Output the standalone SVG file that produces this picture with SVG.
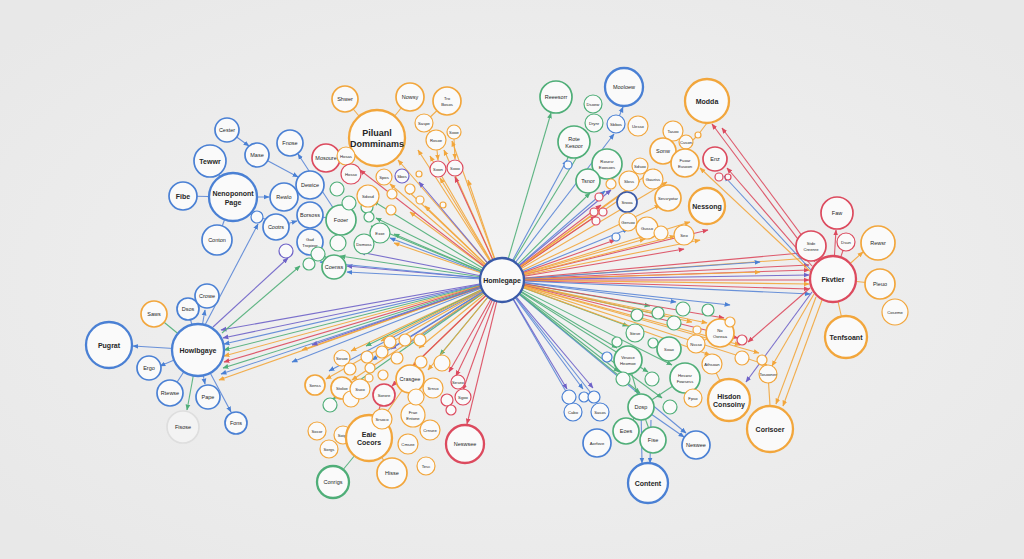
<svg xmlns="http://www.w3.org/2000/svg" width="1024" height="559" viewBox="0 0 1024 559">
<defs>
<radialGradient id="bg" cx="50%" cy="50%" r="65%"><stop offset="0" stop-color="#f3f3f3"/><stop offset="1" stop-color="#e8e8e8"/></radialGradient>
<marker id="mb" viewBox="0 0 10 10" refX="9" refY="5" markerWidth="6" markerHeight="6" markerUnits="userSpaceOnUse" orient="auto"><path d="M0,1L10,5L0,9z" fill="#4a80d4"/></marker>
<marker id="mo" viewBox="0 0 10 10" refX="9" refY="5" markerWidth="6" markerHeight="6" markerUnits="userSpaceOnUse" orient="auto"><path d="M0,1L10,5L0,9z" fill="#f2a63c"/></marker>
<marker id="mr" viewBox="0 0 10 10" refX="9" refY="5" markerWidth="6" markerHeight="6" markerUnits="userSpaceOnUse" orient="auto"><path d="M0,1L10,5L0,9z" fill="#dc4a5e"/></marker>
<marker id="mg" viewBox="0 0 10 10" refX="9" refY="5" markerWidth="6" markerHeight="6" markerUnits="userSpaceOnUse" orient="auto"><path d="M0,1L10,5L0,9z" fill="#4fae78"/></marker>
<marker id="mp" viewBox="0 0 10 10" refX="9" refY="5" markerWidth="6" markerHeight="6" markerUnits="userSpaceOnUse" orient="auto"><path d="M0,1L10,5L0,9z" fill="#6e62c8"/></marker>
</defs>
<style>
circle{fill:#fafafa;stroke-width:1.7}
.cb{stroke:#4a80d4}.co{stroke:#f2a63c}.cr{stroke:#dc4a5e}.cg{stroke:#4fae78}.cp{stroke:#6e62c8}.cd{stroke:#3a5aa8}.cy{stroke:#dedede;fill:#f3f3f3}
.k{stroke-width:2.3}.f{stroke-width:1.2}
line{stroke-width:1.1;fill:none;stroke-opacity:.9}
.lb{stroke:#5a86d6;marker-end:url(#mb)}.lo{stroke:#f2a63c;marker-end:url(#mo)}.lr{stroke:#dc4a5e;marker-end:url(#mr)}.lg{stroke:#4fae78;marker-end:url(#mg)}.lp{stroke:#6e62c8;marker-end:url(#mp)}
.x{marker-end:none}
text{font-family:"Liberation Sans",Arial,sans-serif;fill:#262626;text-anchor:middle;dominant-baseline:central}
.xl{font-size:9px;font-weight:bold}.l{font-size:7px;font-weight:bold}.m{font-size:5.5px}.s{font-size:4.2px}
</style>
<rect width="1024" height="559" fill="url(#bg)"/>
<g id="connectors">
<g id="fan">
<line class="lo" x1="502" y1="280" x2="398" y2="160"/>
<line class="lo" x1="502" y1="280" x2="418" y2="150"/>
<line class="lo" x1="502" y1="280" x2="430" y2="156"/>
<line class="lo" x1="502" y1="280" x2="444" y2="150"/>
<line class="lo" x1="502" y1="280" x2="452" y2="141"/>
<line class="lo" x1="502" y1="280" x2="440" y2="178"/>
<line class="lr" x1="502" y1="280" x2="455" y2="177"/>
<line class="lo" x1="502" y1="280" x2="390" y2="184"/>
<line class="lo" x1="502" y1="280" x2="407" y2="190"/>
<line class="lp" x1="502" y1="280" x2="419" y2="182"/>
<line class="lg" x1="502" y1="280" x2="373" y2="201"/>
<line class="lg" x1="502" y1="280" x2="371" y2="226"/>
<line class="lg" x1="502" y1="280" x2="376" y2="218"/>
<line class="lb" x1="502" y1="280" x2="390" y2="238"/>
<line class="lg" x1="502" y1="280" x2="394" y2="234"/>
<line class="lp" x1="502" y1="280" x2="347" y2="266"/>
<line class="lb" x1="502" y1="280" x2="347" y2="272"/>
<line class="lg" x1="502" y1="280" x2="340" y2="256"/>
<line class="lo" x1="502" y1="280" x2="394" y2="243"/>
<line class="lb" x1="502" y1="280" x2="320" y2="262"/>
<line class="lp" x1="502" y1="280" x2="360" y2="252"/>
<line class="lo" x1="502" y1="280" x2="410" y2="212"/>
<line class="lo" x1="502" y1="280" x2="425" y2="206"/>
<line class="lr" x1="502" y1="280" x2="360" y2="170"/>
<line class="lo" x1="502" y1="280" x2="468" y2="180"/>
<line class="lp" x1="502" y1="280" x2="223" y2="338"/>
<line class="lb" x1="502" y1="280" x2="224" y2="344"/>
<line class="lg" x1="502" y1="280" x2="224" y2="350"/>
<line class="lo" x1="502" y1="280" x2="224" y2="356"/>
<line class="lr" x1="502" y1="280" x2="224" y2="362"/>
<line class="lg" x1="502" y1="280" x2="223" y2="368"/>
<line class="lb" x1="502" y1="280" x2="221" y2="374"/>
<line class="lo" x1="502" y1="280" x2="219" y2="380"/>
<line class="lp" x1="502" y1="280" x2="221" y2="330"/>
<line class="lo" x1="502" y1="280" x2="326" y2="379"/>
<line class="lb" x1="502" y1="280" x2="329" y2="371"/>
<line class="lo" x1="502" y1="280" x2="351" y2="351"/>
<line class="lg" x1="502" y1="280" x2="366" y2="346"/>
<line class="lo" x1="502" y1="280" x2="381" y2="341"/>
<line class="lp" x1="502" y1="280" x2="391" y2="349"/>
<line class="lb" x1="502" y1="280" x2="405" y2="346"/>
<line class="lo" x1="502" y1="280" x2="419" y2="348"/>
<line class="lg" x1="502" y1="280" x2="440" y2="355"/>
<line class="lr" x1="502" y1="280" x2="449" y2="372"/>
<line class="lr" x1="502" y1="280" x2="456" y2="376"/>
<line class="lr" x1="502" y1="280" x2="463" y2="390"/>
<line class="lr" x1="502" y1="280" x2="467" y2="424"/>
<line class="lo" x1="502" y1="280" x2="428" y2="370"/>
<line class="lo" x1="502" y1="280" x2="412" y2="367"/>
<line class="lr" x1="502" y1="280" x2="392" y2="386"/>
<line class="lg" x1="502" y1="280" x2="333" y2="399"/>
<line class="lo" x1="502" y1="280" x2="302" y2="350"/>
<line class="lp" x1="502" y1="280" x2="312" y2="345"/>
<line class="lb" x1="502" y1="280" x2="292" y2="362"/>
<line class="lo" x1="502" y1="280" x2="352" y2="380"/>
<line class="lb" x1="502" y1="280" x2="372" y2="360"/>
<line class="lg" x1="502" y1="280" x2="551" y2="113"/>
<line class="lb" x1="502" y1="280" x2="567" y2="160"/>
<line class="lg" x1="502" y1="280" x2="580" y2="152"/>
<line class="lb" x1="502" y1="280" x2="614" y2="134"/>
<line class="lg" x1="502" y1="280" x2="590" y2="193"/>
<line class="lb" x1="502" y1="280" x2="605" y2="191"/>
<line class="lp" x1="502" y1="280" x2="611" y2="190"/>
<line class="lr" x1="502" y1="280" x2="601" y2="205"/>
<line class="lo" x1="502" y1="280" x2="622" y2="198"/>
<line class="lr" x1="502" y1="280" x2="596" y2="216"/>
<line class="lo" x1="502" y1="280" x2="640" y2="181"/>
<line class="lo" x1="502" y1="280" x2="655" y2="169"/>
<line class="lo" x1="502" y1="280" x2="667" y2="182"/>
<line class="lo" x1="502" y1="280" x2="660" y2="205"/>
<line class="lo" x1="502" y1="280" x2="690" y2="222"/>
<line class="lr" x1="502" y1="280" x2="708" y2="230"/>
<line class="lo" x1="502" y1="280" x2="700" y2="240"/>
<line class="lo" x1="502" y1="280" x2="675" y2="236"/>
<line class="lb" x1="502" y1="280" x2="628" y2="229"/>
<line class="lo" x1="502" y1="280" x2="645" y2="239"/>
<line class="lr" x1="502" y1="280" x2="615" y2="240"/>
<line class="lr" x1="502" y1="280" x2="684" y2="249"/>
<line class="lr" x1="502" y1="280" x2="809" y2="265"/>
<line class="lr" x1="502" y1="280" x2="809" y2="270"/>
<line class="lp" x1="502" y1="280" x2="809" y2="275"/>
<line class="lr" x1="502" y1="280" x2="809" y2="280"/>
<line class="lo" x1="502" y1="280" x2="809" y2="284"/>
<line class="lr" x1="502" y1="280" x2="809" y2="289"/>
<line class="lb" x1="502" y1="280" x2="810" y2="294"/>
<line class="lo" x1="502" y1="280" x2="810" y2="258"/>
<line class="lr" x1="502" y1="280" x2="812" y2="252"/>
<line class="lb" x1="502" y1="280" x2="760" y2="262"/>
<line class="lo" x1="502" y1="280" x2="760" y2="272"/>
<line class="lb" x1="502" y1="280" x2="572" y2="402"/>
<line class="lb" x1="502" y1="280" x2="598" y2="402"/>
<line class="lp" x1="502" y1="280" x2="567" y2="389"/>
<line class="lb" x1="502" y1="280" x2="583" y2="389"/>
<line class="lp" x1="502" y1="280" x2="593" y2="388"/>
<line class="lg" x1="502" y1="280" x2="619" y2="372"/>
<line class="lg" x1="502" y1="280" x2="617" y2="348"/>
<line class="lg" x1="502" y1="280" x2="628" y2="326"/>
<line class="lg" x1="502" y1="280" x2="650" y2="306"/>
<line class="lg" x1="502" y1="280" x2="665" y2="316"/>
<line class="lb" x1="502" y1="280" x2="676" y2="302"/>
<line class="lg" x1="502" y1="280" x2="648" y2="372"/>
<line class="lg" x1="502" y1="280" x2="672" y2="365"/>
<line class="lb" x1="502" y1="280" x2="686" y2="433"/>
<line class="lg" x1="502" y1="280" x2="640" y2="393"/>
<line class="lo" x1="502" y1="280" x2="692" y2="322"/>
<line class="lo" x1="502" y1="280" x2="707" y2="323"/>
<line class="lr" x1="502" y1="280" x2="724" y2="318"/>
<line class="lr" x1="502" y1="280" x2="738" y2="338"/>
<line class="lo" x1="502" y1="280" x2="710" y2="355"/>
<line class="lo" x1="502" y1="280" x2="759" y2="353"/>
<line class="lo" x1="502" y1="280" x2="767" y2="365"/>
<line class="lg" x1="502" y1="280" x2="662" y2="398"/>
<line class="lb" x1="502" y1="280" x2="730" y2="305"/>
<line class="lo" x1="502" y1="280" x2="740" y2="345"/>
</g>
<g id="hub-links">
<line class="lr" x1="815" y1="262" x2="712" y2="124"/>
<line class="lr" x1="820" y1="260" x2="722" y2="128"/>
<line class="lr" x1="812" y1="266" x2="727" y2="168"/>
<line class="lb" x1="811" y1="270" x2="724" y2="176"/>
<line class="lo" x1="812" y1="273" x2="700" y2="168"/>
<line class="lo" x1="816" y1="297" x2="776" y2="404"/>
<line class="lo" x1="822" y1="300" x2="783" y2="406"/>
<line class="lp" x1="812" y1="292" x2="746" y2="382"/>
<line class="lr" x1="810" y1="288" x2="748" y2="342"/>
<line class="lo" x1="814" y1="294" x2="772" y2="366"/>
<line class="lb" x1="205" y1="325" x2="258" y2="224"/>
<line class="lp" x1="213" y1="327" x2="288" y2="258"/>
<line class="lg" x1="222" y1="333" x2="300" y2="266"/>
</g>
<g id="local-links">
<line class="lb x" x1="233" y1="197" x2="210" y2="161"/>
<line class="lb x" x1="233" y1="197" x2="183" y2="196"/>
<line class="lb x" x1="233" y1="197" x2="217" y2="240"/>
<line class="lb" x1="227" y1="130" x2="249" y2="146"/>
<line class="lb" x1="233" y1="197" x2="269" y2="197"/>
<line class="lb x" x1="284" y1="197" x2="310" y2="185"/>
<line class="lb" x1="257" y1="155" x2="298" y2="177"/>
<line class="lb" x1="276" y1="227" x2="297" y2="221"/>
<line class="lb" x1="341" y1="220" x2="298" y2="154"/>
<line class="lb x" x1="310" y1="215" x2="328" y2="218"/>
<line class="lg x" x1="310" y1="242" x2="334" y2="265"/>
<line class="lb x" x1="257" y1="217" x2="290" y2="225"/>
<line class="lo x" x1="377" y1="138" x2="345" y2="99"/>
<line class="lo x" x1="377" y1="138" x2="410" y2="97"/>
<line class="lr x" x1="377" y1="138" x2="326" y2="158"/>
<line class="lo x" x1="447" y1="101" x2="424" y2="123"/>
<line class="lo x" x1="424" y1="123" x2="436" y2="140"/>
<line class="lo" x1="437" y1="150" x2="438" y2="160"/>
<line class="lo" x1="454" y1="139" x2="455" y2="159"/>
<line class="lb" x1="198" y1="350" x2="133" y2="346"/>
<line class="lg x" x1="198" y1="350" x2="154" y2="314"/>
<line class="lb x" x1="198" y1="350" x2="188" y2="309"/>
<line class="lb" x1="198" y1="350" x2="205" y2="310"/>
<line class="lb" x1="198" y1="350" x2="160" y2="366"/>
<line class="lb x" x1="198" y1="350" x2="170" y2="393"/>
<line class="lb" x1="198" y1="350" x2="205" y2="384"/>
<line class="lg" x1="198" y1="350" x2="187" y2="410"/>
<line class="lb" x1="198" y1="350" x2="231" y2="412"/>
<line class="lr" x1="833" y1="279" x2="836" y2="230"/>
<line class="lr x" x1="833" y1="279" x2="811" y2="246"/>
<line class="lr x" x1="833" y1="279" x2="846" y2="242"/>
<line class="lo" x1="833" y1="279" x2="863" y2="252"/>
<line class="lo x" x1="833" y1="279" x2="880" y2="284"/>
<line class="lo x" x1="833" y1="279" x2="846" y2="337"/>
<line class="lb" x1="641" y1="407" x2="642" y2="463"/>
<line class="lb" x1="651" y1="420" x2="650" y2="463"/>
<line class="lb" x1="641" y1="407" x2="684" y2="437"/>
<line class="lg x" x1="628" y1="360" x2="641" y2="407"/>
<line class="lg x" x1="685" y1="378" x2="641" y2="407"/>
<line class="lg x" x1="641" y1="407" x2="626" y2="431"/>
<line class="lg x" x1="641" y1="407" x2="653" y2="440"/>
<line class="lg x" x1="369" y1="438" x2="333" y2="482"/>
<line class="lo x" x1="369" y1="438" x2="392" y2="473"/>
<line class="lo x" x1="369" y1="438" x2="410" y2="379"/>
<line class="lr x" x1="369" y1="438" x2="384" y2="395"/>
<line class="lo x" x1="369" y1="438" x2="343" y2="435"/>
<line class="lo x" x1="698" y1="135" x2="707" y2="123"/>
<line class="lo x" x1="698" y1="135" x2="685" y2="148"/>
<line class="lb" x1="616" y1="124" x2="623" y2="107"/>
<line class="lg x" x1="574" y1="142" x2="567" y2="160"/>
<line class="lo x" x1="720" y1="333" x2="696" y2="344"/>
<line class="lo x" x1="712" y1="364" x2="729" y2="400"/>
<line class="lo x" x1="768" y1="374" x2="770" y2="406"/>
</g>
</g>
<g id="nodes">
<g id="n-home"><circle class="cd k" cx="502" cy="280" r="22"/><text class="l" x="502" y="280">Homlegape</text></g>
<g id="n-cester"><circle class="cb" cx="227" cy="130" r="12"/><text class="m" x="227" y="130">Cester</text></g>
<g id="n-tewwr"><circle class="cb" cx="210" cy="161" r="16"/><text class="l" x="210" y="161">Tewwr</text></g>
<g id="n-fibe"><circle class="cb" cx="183" cy="196" r="14"/><text class="l" x="183" y="196">Fibe</text></g>
<g id="n-page"><circle class="cb k" cx="233" cy="197" r="24"/><text class="l" x="233" y="197"><tspan x="233" dy="-4.5">Nenoponont</tspan><tspan x="233" dy="9">Page</tspan></text></g>
<g id="n-conton"><circle class="cb" cx="217" cy="240" r="15"/><text class="m" x="217" y="240">Conton</text></g>
<g id="n-mase"><circle class="cb" cx="257" cy="155" r="12"/><text class="m" x="257" y="155">Mase</text></g>
<g id="n-fnose"><circle class="cb" cx="290" cy="143" r="13"/><text class="m" x="290" y="143">Fnose</text></g>
<g id="n-rewlo"><circle class="cb" cx="284" cy="197" r="14"/><text class="m" x="284" y="197">Rewlo</text></g>
<g id="n-dewice"><circle class="cb" cx="310" cy="185" r="14"/><text class="m" x="310" y="185">Dewice</text></g>
<g id="n-borsoss"><circle class="cb" cx="310" cy="215" r="13"/><text class="m" x="310" y="215">Borsoss</text></g>
<g id="n-cootrs"><circle class="cb" cx="276" cy="227" r="13"/><text class="m" x="276" y="227">Cootrs</text></g>
<g id="n-gad"><circle class="cb" cx="310" cy="242" r="13"/><text class="s" x="310" y="242"><tspan x="310" dy="-3">Gad</tspan><tspan x="310" dy="6">Tropieor</tspan></text></g>
<g id="n-sb1"><circle class="cb f" cx="257" cy="217" r="6"/></g>
<g id="n-sp1"><circle class="cp f" cx="286" cy="251" r="7"/></g>
<g id="n-fooer"><circle class="cg" cx="341" cy="220" r="15"/><text class="m" x="341" y="220">Fooer</text></g>
<g id="n-coenss"><circle class="cg" cx="334" cy="267" r="12"/><text class="m" x="334" y="267">Coenss</text></g>
<g id="n-g1"><circle class="cg f" cx="337" cy="189" r="7"/></g>
<g id="n-g2"><circle class="cg f" cx="349" cy="203" r="7"/></g>
<g id="n-g3"><circle class="cg f" cx="367" cy="207" r="6"/></g>
<g id="n-g4"><circle class="cg f" cx="380" cy="233" r="10"/><text class="s" x="380" y="233">Exxe</text></g>
<g id="n-g5"><circle class="cg f" cx="364" cy="244" r="10"/><text class="s" x="364" y="244">Domoss</text></g>
<g id="n-g6"><circle class="cg f" cx="338" cy="243" r="8"/></g>
<g id="n-g7"><circle class="cg f" cx="318" cy="254" r="7"/></g>
<g id="n-g8"><circle class="cg f" cx="309" cy="264" r="6"/></g>
<g id="n-g9"><circle class="cg f" cx="369" cy="217" r="5"/></g>
<g id="n-mosoure"><circle class="cr" cx="326" cy="158" r="14"/><text class="m" x="326" y="158">Mosoure</text></g>
<g id="n-poliunl"><circle class="co k" cx="377" cy="138" r="28"/><text class="xl" x="377" y="138" font-weight="normal"><tspan x="377" dy="-5">Piluanl</tspan><tspan x="377" dy="11">Domminams</tspan></text></g>
<g id="n-shwer"><circle class="co" cx="345" cy="99" r="13"/><text class="m" x="345" y="99">Shwer</text></g>
<g id="n-nowsy"><circle class="co" cx="410" cy="97" r="14"/><text class="m" x="410" y="97">Nowsy</text></g>
<g id="n-tro"><circle class="co" cx="447" cy="101" r="14"/><text class="s" x="447" y="101"><tspan x="447" dy="-3">Tro</tspan><tspan x="447" dy="6">Bosos</tspan></text></g>
<g id="n-saspe"><circle class="co f" cx="424" cy="123" r="9"/><text class="s" x="424" y="123">Saspe</text></g>
<g id="n-rosoe"><circle class="co f" cx="436" cy="140" r="10"/><text class="s" x="436" y="140">Rosoe</text></g>
<g id="n-sooe"><circle class="co f" cx="454" cy="132" r="7"/><text class="s" x="454" y="132">Sooe</text></g>
<g id="n-soon"><circle class="cr f" cx="438" cy="169" r="8"/><text class="s" x="438" y="169">Soon</text></g>
<g id="n-sooo"><circle class="cr f" cx="455" cy="168" r="8"/><text class="s" x="455" y="168">Sooo</text></g>
<g id="n-hosas"><circle class="co f" cx="346" cy="156" r="9"/><text class="s" x="346" y="156">Hosas</text></g>
<g id="n-hosso"><circle class="cr f" cx="351" cy="174" r="10"/><text class="s" x="351" y="174">Hosso</text></g>
<g id="n-sdosd"><circle class="co f" cx="368" cy="196" r="11"/><text class="s" x="368" y="196">Sdosd</text></g>
<g id="n-spos"><circle class="co f" cx="384" cy="177" r="8"/><text class="s" x="384" y="177">Spos</text></g>
<g id="n-sbos"><circle class="cp f" cx="402" cy="176" r="7"/><text class="s" x="402" y="176">Sbos</text></g>
<g id="n-o1"><circle class="co f" cx="419" cy="174" r="3"/></g>
<g id="n-o2"><circle class="co f" cx="410" cy="189" r="5"/></g>
<g id="n-o3"><circle class="co f" cx="392" cy="194" r="5"/></g>
<g id="n-o4"><circle class="co f" cx="420" cy="200" r="4"/></g>
<g id="n-o5"><circle class="co f" cx="391" cy="210" r="5"/></g>
<g id="n-o6"><circle class="co f" cx="443" cy="205" r="3"/></g>
<g id="n-reeesorr"><circle class="cg" cx="556" cy="97" r="16"/><text class="m" x="556" y="97">Reeesorr</text></g>
<g id="n-mooloew"><circle class="cb k" cx="624" cy="87" r="19"/><text class="m" x="624" y="87">Mooloew</text></g>
<g id="n-dsoew"><circle class="cg f" cx="593" cy="104" r="9"/><text class="s" x="593" y="104">Dsoew</text></g>
<g id="n-drynr"><circle class="cg f" cx="594" cy="123" r="9"/><text class="s" x="594" y="123">Drynr</text></g>
<g id="n-sbbos"><circle class="cb f" cx="616" cy="124" r="9"/><text class="s" x="616" y="124">Sbbos</text></g>
<g id="n-rote"><circle class="cg" cx="574" cy="142" r="16"/><text class="m" x="574" y="142"><tspan x="574" dy="-3.5">Rote</tspan><tspan x="574" dy="7">Kesoor</tspan></text></g>
<g id="n-sg1"><circle class="cb f" cx="568" cy="165" r="4"/></g>
<g id="n-rosesr"><circle class="cg" cx="607" cy="164" r="15"/><text class="s" x="607" y="164"><tspan x="607" dy="-3">Rosesr</tspan><tspan x="607" dy="6">Eoosoes</tspan></text></g>
<g id="n-tsnor"><circle class="cg" cx="588" cy="181" r="12"/><text class="m" x="588" y="181">Tsnor</text></g>
<g id="n-sg2"><circle class="co f" cx="611" cy="184" r="5"/></g>
<g id="n-uesso"><circle class="co f" cx="638" cy="126" r="10"/><text class="s" x="638" y="126">Uesso</text></g>
<g id="n-tasoo"><circle class="co f" cx="673" cy="131" r="10"/><text class="s" x="673" y="131">Tasoo</text></g>
<g id="n-cuson"><circle class="co f" cx="686" cy="142" r="7"/><text class="s" x="686" y="142">Cuson</text></g>
<g id="n-sonw"><circle class="co" cx="663" cy="151" r="13"/><text class="m" x="663" y="151">Sonw</text></g>
<g id="n-fuoar"><circle class="co" cx="685" cy="163" r="14"/><text class="s" x="685" y="163"><tspan x="685" dy="-3">Fuoar</tspan><tspan x="685" dy="6">Eusoon</tspan></text></g>
<g id="n-sdsoo"><circle class="co f" cx="640" cy="166" r="8"/><text class="s" x="640" y="166">Sdsoo</text></g>
<g id="n-sloss"><circle class="co f" cx="629" cy="181" r="10"/><text class="s" x="629" y="181">Sloss</text></g>
<g id="n-gauriss"><circle class="co f" cx="653" cy="179" r="10"/><text class="s" x="653" y="179">Gauriss</text></g>
<g id="n-modda"><circle class="co k" cx="707" cy="101" r="22"/><text class="l" x="707" y="101">Modda</text></g>
<g id="n-so1"><circle class="co f" cx="698" cy="135" r="3"/></g>
<g id="n-enz"><circle class="cr" cx="715" cy="159" r="12"/><text class="m" x="715" y="159">Enz</text></g>
<g id="n-sr1"><circle class="cr f" cx="719" cy="177" r="4"/></g>
<g id="n-sr2"><circle class="cr f" cx="728" cy="177" r="3"/></g>
<g id="n-srooa"><circle class="cd" cx="627" cy="202" r="10"/><text class="s" x="627" y="202">Srooa</text></g>
<g id="n-sessry"><circle class="co" cx="668" cy="198" r="13"/><text class="s" x="668" y="198">Sessryotar</text></g>
<g id="n-nessong"><circle class="co k" cx="707" cy="206" r="18"/><text class="l" x="707" y="206">Nessong</text></g>
<g id="n-sp2"><circle class="cr f" cx="599" cy="197" r="4"/></g>
<g id="n-sp3"><circle class="cr f" cx="594" cy="212" r="4"/></g>
<g id="n-sp4"><circle class="cr f" cx="603" cy="212" r="4"/></g>
<g id="n-sp5"><circle class="cr f" cx="596" cy="221" r="4"/></g>
<g id="n-gersoo"><circle class="co f" cx="628" cy="222" r="9"/><text class="s" x="628" y="222">Gersoo</text></g>
<g id="n-gusso"><circle class="co f" cx="647" cy="228" r="11"/><text class="s" x="647" y="228">Gusso</text></g>
<g id="n-seo1"><circle class="co f" cx="661" cy="233" r="7"/></g>
<g id="n-seo"><circle class="co f" cx="684" cy="235" r="10"/><text class="s" x="684" y="235">Seo</text></g>
<g id="n-sp6"><circle class="cb f" cx="616" cy="237" r="4"/></g>
<g id="n-fkvtier"><circle class="cr k" cx="833" cy="279" r="23"/><text class="l" x="833" y="279">Fkvtier</text></g>
<g id="n-faw"><circle class="cr" cx="837" cy="213" r="16"/><text class="m" x="837" y="213">Faw</text></g>
<g id="n-stde"><circle class="cr" cx="811" cy="246" r="15"/><text class="s" x="811" y="246"><tspan x="811" dy="-3">Stde</tspan><tspan x="811" dy="6">Creenre</tspan></text></g>
<g id="n-dsun"><circle class="cr f" cx="846" cy="242" r="9"/><text class="s" x="846" y="242">Dsun</text></g>
<g id="n-rewsr"><circle class="co" cx="878" cy="243" r="17"/><text class="m" x="878" y="243">Rewsr</text></g>
<g id="n-pieuo"><circle class="co" cx="880" cy="284" r="15"/><text class="m" x="880" y="284">Pieuo</text></g>
<g id="n-coseme"><circle class="co f" cx="895" cy="312" r="13"/><text class="s" x="895" y="312">Coseme</text></g>
<g id="n-tenf"><circle class="co k" cx="846" cy="337" r="21"/><text class="l" x="846" y="337">Tenfsoant</text></g>
<g id="n-howl"><circle class="cb k" cx="198" cy="350" r="26"/><text class="l" x="198" y="350">Howlbgaye</text></g>
<g id="n-pugrat"><circle class="cb k" cx="109" cy="345" r="23"/><text class="l" x="109" y="345">Pugrat</text></g>
<g id="n-saws"><circle class="co" cx="154" cy="314" r="13"/><text class="m" x="154" y="314">Saws</text></g>
<g id="n-dsos"><circle class="cb" cx="188" cy="309" r="11"/><text class="m" x="188" y="309">Dsos</text></g>
<g id="n-crowe"><circle class="cb" cx="207" cy="296" r="12"/><text class="m" x="207" y="296">Crowe</text></g>
<g id="n-ergo"><circle class="cb" cx="149" cy="368" r="12"/><text class="m" x="149" y="368">Ergo</text></g>
<g id="n-rtewse"><circle class="cb" cx="170" cy="393" r="13"/><text class="m" x="170" y="393">Rtewse</text></g>
<g id="n-pape"><circle class="cb" cx="208" cy="397" r="12"/><text class="m" x="208" y="397">Pape</text></g>
<g id="n-fisose"><circle class="cy" cx="183" cy="427" r="16"/><text class="m" x="183" y="427">Fisose</text></g>
<g id="n-fons"><circle class="cb" cx="236" cy="423" r="11"/><text class="m" x="236" y="423">Fons</text></g>
<g id="n-senss"><circle class="co" cx="315" cy="385" r="10"/><text class="s" x="315" y="385">Senss</text></g>
<g id="n-stoloe"><circle class="co" cx="342" cy="388" r="11"/><text class="s" x="342" y="388">Stoloe</text></g>
<g id="n-ll1"><circle class="co f" cx="351" cy="399" r="8"/></g>
<g id="n-ll2"><circle class="cg f" cx="330" cy="405" r="7"/></g>
<g id="n-socor"><circle class="co f" cx="317" cy="431" r="9"/><text class="s" x="317" y="431">Socor</text></g>
<g id="n-soigo"><circle class="co f" cx="343" cy="435" r="9"/><text class="s" x="343" y="435">Soigo</text></g>
<g id="n-sorgs"><circle class="co f" cx="329" cy="449" r="9"/><text class="s" x="329" y="449">Sorgs</text></g>
<g id="n-eaie"><circle class="co k" cx="369" cy="438" r="23"/><text class="l" x="369" y="438" font-weight="normal"><tspan x="369" dy="-4">Eaie</tspan><tspan x="369" dy="8">Coeors</tspan></text></g>
<g id="n-conrigs"><circle class="cg k" cx="333" cy="482" r="16"/><text class="m" x="333" y="482">Conrigs</text></g>
<g id="n-hisse"><circle class="co" cx="392" cy="473" r="15"/><text class="m" x="392" y="473">Hisse</text></g>
<g id="n-tesc"><circle class="co f" cx="426" cy="466" r="9"/><text class="s" x="426" y="466">Tesc</text></g>
<g id="n-sorore"><circle class="cr" cx="384" cy="395" r="11"/><text class="s" x="384" y="395">Sorore</text></g>
<g id="n-crasgee"><circle class="co" cx="410" cy="379" r="14"/><text class="m" x="410" y="379">Crasgee</text></g>
<g id="n-srsoco"><circle class="co f" cx="382" cy="419" r="10"/><text class="s" x="382" y="419">Srsoco</text></g>
<g id="n-frae"><circle class="co f" cx="413" cy="415" r="12"/><text class="s" x="413" y="415"><tspan x="413" dy="-3">Frae</tspan><tspan x="413" dy="6">Entone</tspan></text></g>
<g id="n-ll3"><circle class="co f" cx="416" cy="397" r="8"/></g>
<g id="n-cmsee"><circle class="co f" cx="408" cy="444" r="10"/><text class="s" x="408" y="444">Cmsee</text></g>
<g id="n-crnsee"><circle class="co f" cx="430" cy="430" r="10"/><text class="s" x="430" y="430">Crnsee</text></g>
<g id="n-srnso"><circle class="co f" cx="433" cy="388" r="10"/><text class="s" x="433" y="388">Srnso</text></g>
<g id="n-ll4"><circle class="co f" cx="442" cy="363" r="8"/></g>
<g id="n-ll5"><circle class="co f" cx="421" cy="362" r="6"/></g>
<g id="n-seseo"><circle class="cr f" cx="458" cy="382" r="7"/><text class="s" x="458" y="382">Seseo</text></g>
<g id="n-sgoo"><circle class="cr f" cx="463" cy="397" r="8"/><text class="s" x="463" y="397">Sgoo</text></g>
<g id="n-ll6"><circle class="cr f" cx="447" cy="400" r="6"/></g>
<g id="n-ll7"><circle class="cr f" cx="451" cy="410" r="5"/></g>
<g id="n-neswsee"><circle class="cr k" cx="465" cy="444" r="19"/><text class="m" x="465" y="444">Neswsee</text></g>
<g id="n-ll8"><circle class="co f" cx="390" cy="342" r="6"/></g>
<g id="n-ll9"><circle class="co f" cx="405" cy="340" r="6"/></g>
<g id="n-ll10"><circle class="co f" cx="420" cy="340" r="6"/></g>
<g id="n-ll11"><circle class="co f" cx="382" cy="352" r="6"/></g>
<g id="n-ll12"><circle class="co f" cx="397" cy="358" r="6"/></g>
<g id="n-ll13"><circle class="co f" cx="367" cy="357" r="6"/></g>
<g id="n-sosoe"><circle class="co f" cx="342" cy="358" r="8"/><text class="s" x="342" y="358">Sosoe</text></g>
<g id="n-ll14"><circle class="co f" cx="350" cy="369" r="6"/></g>
<g id="n-ll15"><circle class="co f" cx="370" cy="368" r="5"/></g>
<g id="n-ll16"><circle class="co f" cx="383" cy="375" r="5"/></g>
<g id="n-ll17"><circle class="co f" cx="369" cy="378" r="4"/></g>
<g id="n-ssoo"><circle class="co f" cx="360" cy="389" r="10"/><text class="s" x="360" y="389">Ssoo</text></g>
<g id="n-content"><circle class="cb k" cx="648" cy="483" r="20"/><text class="l" x="648" y="483">Content</text></g>
<g id="n-neswee"><circle class="cb" cx="696" cy="445" r="14"/><text class="m" x="696" y="445">Neswee</text></g>
<g id="n-fise"><circle class="cg" cx="653" cy="440" r="13"/><text class="m" x="653" y="440">Fise</text></g>
<g id="n-eoes"><circle class="cg" cx="626" cy="431" r="13"/><text class="m" x="626" y="431">Eoes</text></g>
<g id="n-aorfove"><circle class="cb" cx="597" cy="443" r="14"/><text class="s" x="597" y="443">Aorfove</text></g>
<g id="n-dosp"><circle class="cg" cx="641" cy="407" r="13"/><text class="m" x="641" y="407">Dosp</text></g>
<g id="n-heswsr"><circle class="cg" cx="685" cy="378" r="15"/><text class="s" x="685" y="378"><tspan x="685" dy="-3">Heswsr</tspan><tspan x="685" dy="6">Fowsess</tspan></text></g>
<g id="n-vesoce"><circle class="cg" cx="628" cy="360" r="14"/><text class="s" x="628" y="360"><tspan x="628" dy="-3">Vesoce</tspan><tspan x="628" dy="6">Heomoe</tspan></text></g>
<g id="n-cabo"><circle class="cb f" cx="573" cy="412" r="9"/><text class="s" x="573" y="412">Cabo</text></g>
<g id="n-sasos"><circle class="cb f" cx="600" cy="412" r="9"/><text class="s" x="600" y="412">Sasos</text></g>
<g id="n-lr1"><circle class="cb f" cx="569" cy="397" r="7"/></g>
<g id="n-lr2"><circle class="cb f" cx="584" cy="397" r="5"/></g>
<g id="n-lr3"><circle class="cb f" cx="594" cy="397" r="6"/></g>
<g id="n-lr4"><circle class="cg f" cx="623" cy="379" r="7"/></g>
<g id="n-lr5"><circle class="cg f" cx="652" cy="379" r="7"/></g>
<g id="n-lr6"><circle class="cg f" cx="670" cy="407" r="7"/></g>
<g id="n-steve"><circle class="cg f" cx="635" cy="333" r="9"/><text class="s" x="635" y="333">Steve</text></g>
<g id="n-soao"><circle class="cg" cx="669" cy="349" r="12"/><text class="s" x="669" y="349">Soao</text></g>
<g id="n-lr7"><circle class="cg f" cx="653" cy="343" r="5"/></g>
<g id="n-lr8"><circle class="cg f" cx="617" cy="342" r="5"/></g>
<g id="n-lr9"><circle class="cb f" cx="607" cy="357" r="5"/></g>
<g id="n-lr10"><circle class="cg f" cx="637" cy="315" r="6"/></g>
<g id="n-lr11"><circle class="cg f" cx="658" cy="313" r="6"/></g>
<g id="n-lr12"><circle class="cg f" cx="674" cy="323" r="7"/></g>
<g id="n-lr13"><circle class="cg f" cx="683" cy="309" r="7"/></g>
<g id="n-lr14"><circle class="cg f" cx="708" cy="310" r="6"/></g>
<g id="n-noo"><circle class="co" cx="720" cy="333" r="14"/><text class="s" x="720" y="333"><tspan x="720" dy="-3">No</tspan><tspan x="720" dy="6">Ooreaa</tspan></text></g>
<g id="n-lr15"><circle class="co f" cx="730" cy="322" r="5"/></g>
<g id="n-lr16"><circle class="co f" cx="697" cy="330" r="4"/></g>
<g id="n-nssso"><circle class="co f" cx="696" cy="344" r="9"/><text class="s" x="696" y="344">Nssso</text></g>
<g id="n-lr17"><circle class="cr f" cx="742" cy="340" r="5"/></g>
<g id="n-lr18"><circle class="co f" cx="742" cy="358" r="7"/></g>
<g id="n-athsoan"><circle class="co f" cx="712" cy="364" r="10"/><text class="s" x="712" y="364">Athsoan</text></g>
<g id="n-lr19"><circle class="co f" cx="762" cy="360" r="5"/></g>
<g id="n-tosooner"><circle class="co f" cx="768" cy="374" r="9"/><text class="s" x="768" y="374">Tosooner</text></g>
<g id="n-fpso"><circle class="co f" cx="693" cy="398" r="9"/><text class="s" x="693" y="398">Fpso</text></g>
<g id="n-hisdon"><circle class="co k" cx="729" cy="400" r="21"/><text class="l" x="729" y="400"><tspan x="729" dy="-4">Hisdon</tspan><tspan x="729" dy="8">Consoiny</tspan></text></g>
<g id="n-corisoer"><circle class="co k" cx="770" cy="429" r="23"/><text class="l" x="770" y="429">Corisoer</text></g>
</g>
</svg>
